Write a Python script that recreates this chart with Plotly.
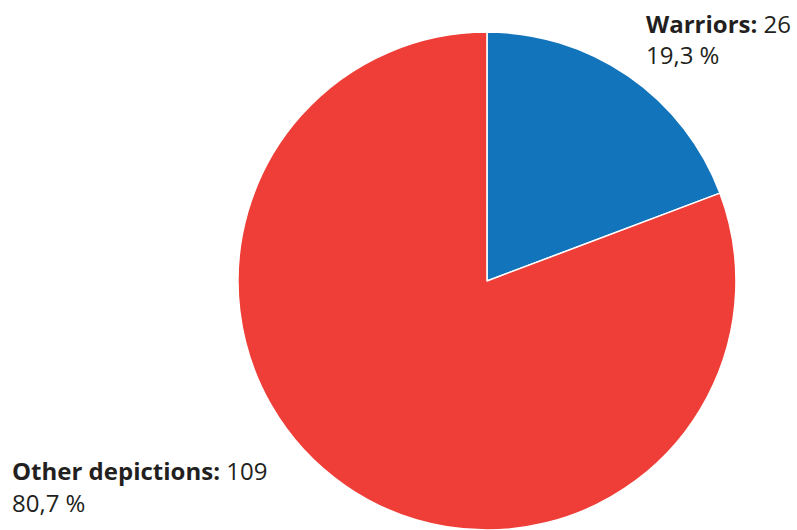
import plotly.graph_objects as go

labels = ["Warriors", "Other depictions"]
values = [26, 109]
percent_labels = ["19,3 %", "80,7 %"]
colors = ["#1274BB", "#EF3E37"]

W, H = 797, 530
fig = go.Figure()
fig.add_trace(go.Pie(
    labels=labels, values=values, sort=False, direction="clockwise", rotation=0,
    marker=dict(colors=colors, line=dict(color="white", width=1.5)),
    textinfo="none", hoverinfo="label+value+percent", showlegend=False,
    domain=dict(x=[0.298, 0.924], y=[0.0, 498 / H]),
))

font = "'Open Sans', Lato, sans-serif"
txtcol = "#231F20"
positions = [(646, 23.5, 55), (12, 470, 502)]
for (lab, val, pct), (px, y1, y2) in zip(zip(labels, values, percent_labels), positions):
    fx = (px - 2) / W
    fig.add_annotation(x=fx, y=1 - y1 / H, xref="paper", yref="paper",
                       xanchor="left", yanchor="middle", showarrow=False,
                       text=f"<b>{lab}:</b> {val}",
                       font=dict(family=font, size=24, color=txtcol))
    fig.add_annotation(x=fx, y=1 - y2 / H, xref="paper", yref="paper",
                       xanchor="left", yanchor="middle", showarrow=False,
                       text=pct,
                       font=dict(family=font, size=24, color=txtcol))

fig.update_layout(width=W, height=H, margin=dict(l=0, r=0, t=0, b=0),
                  paper_bgcolor="white", plot_bgcolor="white")
fig.write_html("out.html", config={"displayModeBar": False},
               post_script="document.body.style.margin='0';document.body.style.overflow='hidden';")
